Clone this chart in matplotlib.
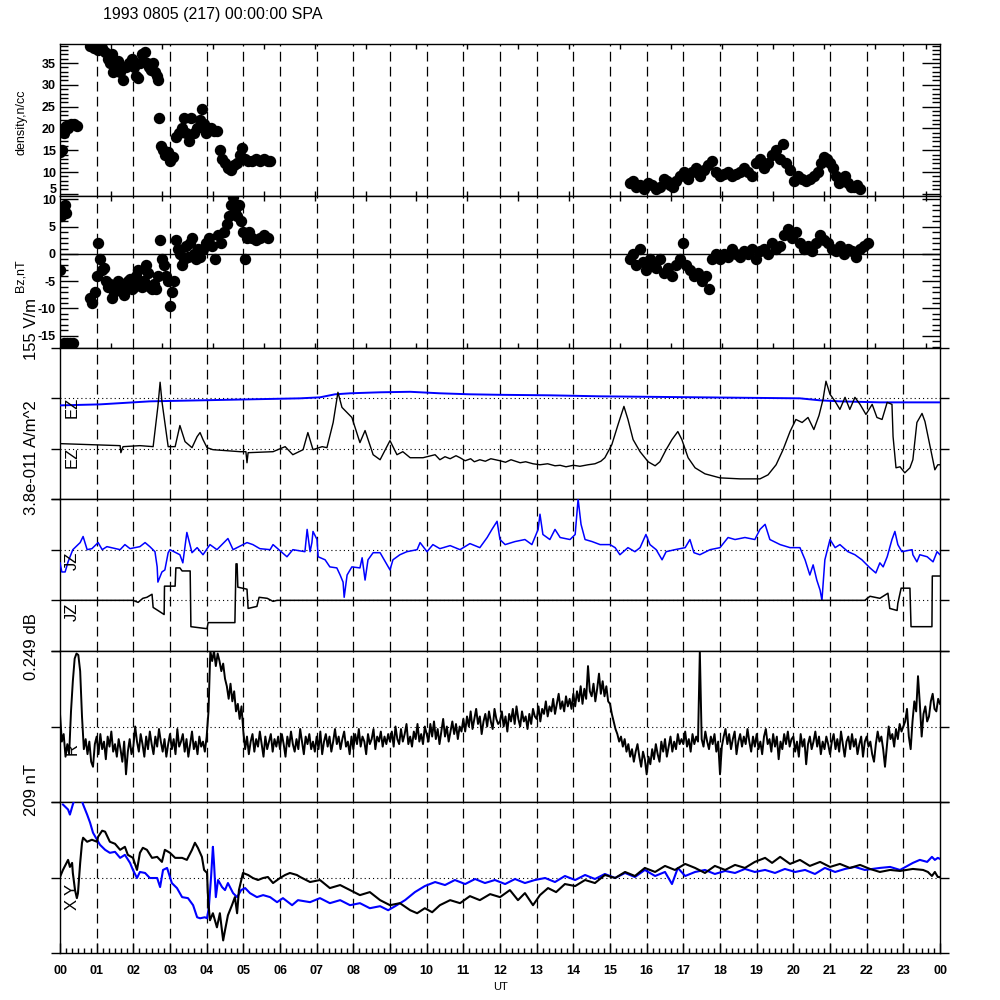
import matplotlib
matplotlib.use('Agg')
import matplotlib.pyplot as plt
import numpy as np

plt.rcParams['font.family'] = 'Liberation Sans'
plt.rcParams['axes.unicode_minus'] = False
plt.rcParams['lines.scale_dashes'] = False

# ---------------- data (time in hours UT) ----------------
# density, n/cc
dens_t = [0.00, 0.05, 0.10, 0.15, 0.22, 0.30, 0.38, 0.45,
          0.82, 0.93, 1.04, 1.15, 1.23, 1.31, 1.36, 1.42, 1.45, 1.53, 1.58, 1.64, 1.72, 1.80,
          1.88, 1.96, 2.02, 2.07, 2.13, 2.18, 2.24, 2.32, 2.37, 2.43, 2.48, 2.54, 2.59, 2.65,
          2.67, 2.70, 2.75, 2.81, 2.86, 2.95, 3.00, 3.08,
          3.16, 3.25, 3.33, 3.38, 3.44, 3.52, 3.57, 3.65, 3.74, 3.82, 3.87, 3.93, 3.98, 4.04,
          4.12, 4.20, 4.28, 4.36, 4.42, 4.50, 4.58, 4.66, 4.75, 4.83, 4.91, 4.96, 5.05, 5.13,
          5.24, 5.35, 5.45, 5.56, 5.67, 5.73,
          15.55, 15.63, 15.71, 15.82, 15.93, 16.04, 16.15, 16.26, 16.36, 16.47, 16.55, 16.64,
          16.72, 16.80, 16.91, 17.02, 17.13, 17.24, 17.35, 17.45, 17.56, 17.67, 17.78, 17.89,
          18.00, 18.11, 18.22, 18.33, 18.44, 18.55, 18.65, 18.76, 18.87, 18.98, 19.09, 19.20,
          19.31, 19.42, 19.53, 19.64, 19.72, 19.80, 19.91, 20.02, 20.13, 20.24, 20.35, 20.45,
          20.56, 20.67, 20.75, 20.84, 20.92, 21.00, 21.08, 21.16, 21.24, 21.33, 21.41, 21.49,
          21.57, 21.65, 21.74, 21.82]
dens_v = [14.5, 15, 19, 20.5, 20, 21, 21, 20.5,
          39, 38.5, 38, 38.5, 37.5, 36, 35, 37, 33, 34, 35.5, 33, 31, 34,
          35, 36, 34, 32, 31.5, 35, 37, 37.5, 35, 34, 33.5, 35, 33, 32,
          31, 22.5, 16, 15, 14, 14.5, 12.5, 13.5,
          18, 19, 20, 22.5, 19, 17, 22.5, 19, 20, 22, 24.5, 21, 19, 20,
          20, 19.5, 19.5, 15, 13, 12, 11, 10.5, 11.5, 12, 14, 15.5, 13, 12.5,
          12.5, 13, 12.5, 13, 12.5, 12.5,
          7.5, 8, 6.5, 7, 6, 7.5, 7, 6, 6.5, 8.5, 8, 7,
          6.5, 8, 9, 10, 8.5, 10, 11, 9, 10.5, 11.5, 12.5, 10,
          9, 9.5, 10, 9, 9.5, 10, 11, 10, 9, 12, 13, 11,
          12, 14, 15, 13, 16.5, 12, 10.5, 8, 9, 8.5, 8, 8.5,
          9, 10, 12, 13.5, 13, 12, 11, 9, 7.5, 8, 9, 7.5,
          6.5, 6.5, 7, 6]

# Bz, nT
bz_t = [0.00, 0.03, 0.08, 0.14, 0.16, 0.11, 0.19, 0.27, 0.35,
        0.82, 0.87, 0.95, 1.01, 1.04, 1.09, 1.15, 1.20, 1.25, 1.31, 1.36, 1.42, 1.47, 1.53,
        1.58, 1.64, 1.69, 1.75, 1.80, 1.85, 1.91, 1.96, 2.02, 2.07, 2.13, 2.18, 2.24, 2.29,
        2.35, 2.40, 2.45, 2.51, 2.56, 2.62, 2.67, 2.73, 2.78, 2.84, 2.89, 2.95, 3.00, 3.05,
        3.11, 3.16, 3.22, 3.27, 3.33, 3.38, 3.44, 3.49, 3.55, 3.60, 3.65, 3.71, 3.76, 3.82,
        3.90, 3.98, 4.06, 4.15, 4.23, 4.31, 4.39, 4.47, 4.55, 4.61, 4.66, 4.72, 4.77, 4.83,
        4.88, 4.94, 4.99, 5.05, 5.10, 5.15, 5.24, 5.35, 5.45, 5.56, 5.67,
        15.55, 15.63, 15.71, 15.82, 15.90, 15.98, 16.09, 16.17, 16.26, 16.36, 16.47, 16.58,
        16.69, 16.80, 16.91, 16.99, 17.07, 17.18, 17.29, 17.40, 17.51, 17.62, 17.70, 17.78,
        17.89, 18.00, 18.11, 18.22, 18.33, 18.44, 18.55, 18.65, 18.76, 18.87, 18.98, 19.09,
        19.20, 19.31, 19.42, 19.53, 19.64, 19.75, 19.86, 19.96, 20.07, 20.18, 20.29, 20.40,
        20.51, 20.62, 20.73, 20.84, 20.95, 21.05, 21.16, 21.27, 21.38, 21.49, 21.60, 21.71,
        21.82, 21.93, 22.04]
bz_v = [-3, 7, 8.5, 9, 7.5, -16.3, -16.3, -16.3, -16.3,
        -8, -9, -7, -4, 2, -1, -3, -2.5, -5, -6, -5.5, -8, -7, -6.5,
        -5, -6, -5.5, -7.5, -6, -5, -4.5, -6.5, -6, -4, -3, -5, -6, -5,
        -2, -3.5, -6, -6.5, -5.5, -6.5, -4, 2.5, -1, -2, -4, -5, -9.5, -7,
        -5, 2.5, 1, 0, -2, -1, 1.5, -0.5, 2, 3, 0, -1, 1, -0.5,
        1, 2, 3, 1.5, -1, 3.5, 2, 4, 5.5, 7, 9, 10.5, 8, 7,
        9, 6, 4, -1, 3, 4, 3, 2.5, 3, 3.5, 3,
        -1, 0, -2, 1, -1.5, -3, -1, -2, -2.5, -1, -3.5, -2.5,
        -4, -2, -1, 2, -2, -3, -4, -3.5, -5, -4, -6.5, -1,
        0, -1, 0, -0.5, 1, 0, -0.5, 0.5, 0, 1, -1, 0.5,
        1, 0, 2, 1, 1.5, 3.5, 4.5, 3, 4, 2, 1, 1.5,
        0.5, 2, 3.5, 2.5, 2, 1, 0.5, 1.5, 0, 1, 0.5, -0.5,
        1, 1.5, 2]

# EZ (offsets from trace baseline, in units of one tick step = 155 V/m)
ez_blue_t = [0.00, 1.09, 2.45, 3.82, 5.18, 6.55, 7.09, 7.50, 7.91, 8.73, 9.55, 10.36,
             11.18, 12.00, 13.36, 14.73, 16.09, 17.45, 18.82, 20.18, 20.73, 21.27, 22.36, 24.00]
ez_blue_v = [-0.14, -0.12, -0.06, -0.04, -0.02, 0.00, 0.02, 0.08, 0.10, 0.12, 0.13, 0.10,
             0.08, 0.07, 0.06, 0.04, 0.03, 0.02, 0.01, 0.00, -0.04, -0.06, -0.08, -0.08]
ez_black_t = [0.00, 1.64, 1.66, 1.72, 2.18, 2.54, 2.67, 2.73, 2.78, 2.95, 3.14, 3.27, 3.41,
              3.60, 3.74, 3.82, 3.90, 4.01, 4.17, 4.91, 5.07, 5.10, 5.13, 5.81, 6.14, 6.35,
              6.63, 6.76, 6.90, 7.15, 7.28, 7.45, 7.58, 7.69, 7.96, 8.18, 8.32, 8.54, 8.73,
              9.00, 9.19, 9.35, 9.55, 9.90, 10.23,
              10.36, 10.50, 10.64, 10.80, 10.91, 11.05, 11.20, 11.30, 11.45, 11.60, 11.75,
              12.00, 12.15, 12.30, 12.55, 12.70, 12.90, 13.09, 13.30, 13.50, 13.64, 13.80,
              14.00, 14.18, 14.40, 14.59, 14.75, 14.86,
              15.05, 15.22, 15.38, 15.49, 15.63, 15.82, 16.04,
              16.23, 16.36, 16.53, 16.69, 16.85, 16.96, 17.13, 17.32, 17.59, 18.00, 18.55,
              19.09, 19.31, 19.53, 19.72, 19.91, 20.07, 20.24, 20.40, 20.56, 20.70, 20.81,
              20.89, 21.00, 21.14, 21.27, 21.41, 21.54, 21.68, 21.82, 21.98, 22.15, 22.28,
              22.42, 22.56, 22.69, 22.72, 22.80, 22.91, 23.04, 23.18, 23.26, 23.37, 23.51,
              23.59, 23.73, 23.86, 23.94, 24.00]
ez_black_v = [0.10, 0.06, -0.08, 0.04, 0.06, 0.04, 0.84, 1.32, 0.94, 0.04, 0.04, 0.46, 0.14,
              0.02, 0.24, 0.32, 0.18, 0.02, -0.02, -0.06, -0.06, -0.28, -0.08, -0.06, 0.04, -0.12,
              -0.02, 0.32, -0.02, 0.04, 0.02, 0.52, 1.12, 0.82, 0.62, 0.12, 0.36, -0.12, -0.22,
              0.16, -0.12, -0.06, -0.18, -0.18, -0.12,
              -0.22, -0.16, -0.20, -0.14, -0.18, -0.24, -0.20, -0.26, -0.22, -0.25, -0.20,
              -0.24, -0.27, -0.22, -0.28, -0.26, -0.30, -0.32, -0.30, -0.34, -0.33, -0.36,
              -0.33, -0.35, -0.32, -0.30, -0.25, -0.18,
              0.08, 0.48, 0.84, 0.58, 0.18, -0.06, -0.26,
              -0.34, -0.26, -0.02, 0.18, 0.34, 0.18, -0.18, -0.38, -0.50, -0.58, -0.60,
              -0.60, -0.52, -0.32, -0.02, 0.34, 0.58, 0.52, 0.62, 0.38, 0.66, 0.98,
              1.34, 1.08, 0.94, 0.78, 1.02, 0.78, 1.02, 0.88, 0.68, 0.88, 0.62,
              0.58, 0.92, 0.88, 0.24, -0.38, -0.36, -0.48, -0.38, -0.22, 0.52, 0.70,
              0.54, 0.04, -0.42, -0.32, -0.32]

# JZ (offsets from trace baseline, in units of 3.8e-011 A/m^2)
jz_blue_t = [0.00, 0.05, 0.14, 0.22, 0.35, 0.55, 0.63, 0.74, 0.87, 1.04, 1.15, 1.28, 1.64,
             1.77, 1.91, 2.18, 2.32, 2.45, 2.59, 2.65, 2.67, 2.78, 2.86, 2.95, 3.00, 3.27,
             3.35, 3.46, 3.60, 3.74, 3.90, 4.09, 4.28, 4.58, 4.72, 5.10, 5.26, 5.45, 5.73,
             5.81, 6.19, 6.35, 6.68, 6.74, 6.82, 6.87, 6.90, 7.01, 7.04, 7.23, 7.36, 7.55,
             7.64, 7.72, 7.75, 7.83, 7.96, 8.18, 8.24, 8.32, 8.40, 8.54, 8.73, 9.00, 9.08,
             9.27, 9.46, 9.74, 9.82, 10.01, 10.17, 10.36, 10.64, 10.91, 11.18, 11.45, 11.65,
             11.78, 11.92, 12.00, 12.14, 12.41, 12.68, 12.87, 13.04, 13.09, 13.17, 13.36,
             13.50, 13.64, 13.91, 14.05, 14.13, 14.21, 14.32, 14.51, 14.73, 15.00, 15.14,
             15.27, 15.49, 15.68, 15.82, 15.98, 16.09, 16.26, 16.42, 16.53, 16.77, 17.05,
             17.18, 17.29, 17.45, 17.73, 18.00, 18.22, 18.41, 18.68, 18.95, 19.09, 19.23,
             19.36, 19.64, 19.91, 20.18, 20.32, 20.45, 20.54, 20.64, 20.73, 20.78, 20.86,
             21.00, 21.14, 21.27, 21.49, 21.68, 21.87, 22.09, 22.25, 22.36, 22.45, 22.56,
             22.69, 22.77, 22.85, 22.96, 23.24, 23.26, 23.37, 23.45, 23.65, 23.81, 23.92, 24.00]
jz_blue_v = [-0.26, -0.44, -0.44, -0.24, 0.00, 0.14, 0.26, 0.00, 0.02, 0.14, 0.00, 0.06, 0.00,
             0.10, 0.02, 0.06, 0.14, 0.06, -0.04, -0.34, -0.64, -0.44, -0.40, -0.06, 0.00, -0.10,
             -0.26, 0.34, -0.06, 0.04, -0.10, 0.10, 0.00, 0.22, 0.00, 0.14, 0.10, 0.02, 0.00,
             0.10, -0.14, 0.00, -0.04, 0.40, -0.04, 0.14, 0.36, 0.20, -0.14, -0.20, -0.34, -0.36,
             -0.50, -0.64, -0.94, -0.50, -0.34, -0.36, -0.16, -0.60, -0.20, -0.06, -0.06, -0.40, -0.20,
             -0.10, -0.04, 0.00, 0.14, -0.04, 0.10, 0.02, 0.08, 0.00, 0.12, 0.04, 0.24,
             0.40, 0.56, 0.20, 0.10, 0.16, 0.20, 0.10, 0.40, 0.70, 0.30, 0.20,
             0.40, 0.24, 0.20, 0.30, 1.00, 0.50, 0.20, 0.16, 0.10, 0.10, 0.04,
             -0.10, 0.04, -0.04, 0.04, 0.30, 0.10, 0.00, -0.20, -0.04, 0.00, 0.04,
             0.20, -0.06, -0.10, 0.00, 0.04, 0.24, 0.20, 0.24, 0.20, 0.40, 0.50,
             0.20, 0.10, 0.04, 0.04, -0.20, -0.50, -0.30, -0.60, -0.80, -1.00, -0.20,
             0.20, 0.04, 0.10, -0.04, -0.10, -0.20, -0.36, -0.46, -0.26, -0.34, -0.14,
             0.20, 0.36, 0.10, -0.04, 0.00, -0.10, -0.24, -0.10, -0.14, -0.24, -0.04, -0.10]
jz_black_t = [0.00, 1.99, 2.13, 2.26, 2.37, 2.51, 2.54, 2.67, 2.84, 2.85, 3.14, 3.16, 3.27,
              3.33, 3.55, 3.57, 4.01, 4.04, 4.77, 4.80, 4.83, 4.85, 5.10, 5.13, 5.37, 5.43,
              5.65, 5.81, 5.92, 21.95, 22.09, 22.36, 22.58, 22.63, 22.83, 22.85, 22.94, 23.18,
              23.21, 23.78, 23.79, 24.00]
jz_black_v = [0.00, 0.00, -0.04, 0.04, 0.06, 0.12, -0.14, -0.20, -0.28, 0.28, 0.28, 0.64, 0.64,
              0.58, 0.58, -0.52, -0.56, -0.44, -0.44, 0.72, 0.72, 0.26, 0.22, -0.16, -0.12, 0.06,
              0.04, -0.02, 0.00, 0.00, 0.08, 0.04, 0.14, -0.16, -0.20, -0.06, 0.24, 0.24,
              -0.52, -0.52, 0.48, 0.48]

# R (offsets from baseline, 3-minute samples, units of 0.249 dB / 1.5)
r_vals = [0.25, -0.3, -0.15, -0.6, -0.35, -0.55, 0.3, 0.9, 1.35, 1.45, 1.42, 1.1, 0.2, -0.45, -0.25, -0.55, -0.3, -0.7, -0.8, -0.35,
          -0.2, -0.55, -0.15, -0.45, -0.3, -0.65, -0.2, -0.4, -0.1, -0.5, -0.35, -0.6, -0.25, -0.45, -0.7, -0.3, -0.95, -0.5, -0.25, -0.55,
          -0.4, 0.0, -0.3, -0.5, -0.15, -0.35, -0.6, -0.2, -0.45, -0.1, -0.35, -0.55, -0.2, -0.4, -0.05, -0.3, -0.5, -0.25, -0.6, -0.35,
          -0.15, -0.45, -0.25, -0.55, -0.05, -0.4, -0.3, -0.15, -0.5, -0.25, -0.6, -0.35, -0.1, -0.45, -0.3, -0.55, -0.2, -0.4, -0.3, -0.5,
          -0.2, 0.3, 1.5, 1.3, 1.5, 1.2, 1.45, 1.3, 1.1, 1.25, 0.95, 0.8, 0.55, 0.85, 0.5, 0.7, 0.3, 0.45, 0.15, 0.4,
          -0.1, -0.45, -0.2, -0.55, -0.3, -0.15, -0.5, -0.25, -0.4, -0.1, -0.35, -0.6, -0.2, -0.45, -0.3, -0.15, -0.5, -0.25, -0.4, -0.2,
          -0.45, -0.15, -0.35, -0.6, -0.2, -0.4, -0.1, -0.35, -0.5, -0.25, -0.45, -0.05, -0.3, -0.55, -0.2, -0.35, -0.15, -0.45, -0.3, -0.5,
          -0.2, -0.45, -0.1, -0.55, -0.3, -0.15, -0.4, -0.2, -0.5, -0.3, -0.05, -0.35, -0.2, -0.45, -0.25, -0.1, -0.4, -0.3, -0.55, -0.2,
          -0.45, -0.15, -0.35, -0.05, -0.4, -0.2, -0.3, -0.55, -0.15, -0.35, -0.25, -0.05, -0.45, -0.2, -0.3, -0.1, -0.4, -0.2, -0.35, -0.15,
          -0.3, -0.1, -0.4, 0.0, -0.25, -0.35, -0.05, -0.3, -0.15, 0.05, -0.35, -0.2, -0.4, -0.1, -0.25, 0.05, -0.3, -0.15, -0.35, 0.0,
          -0.15, -0.3, 0.05, -0.2, 0.1, -0.25, -0.05, -0.35, -0.1, 0.15, -0.2, 0.0, -0.3, -0.1, 0.1, -0.15, 0.05, -0.25, 0.0, -0.1,
          0.15, -0.1, 0.2, 0.0, 0.3, -0.05, 0.15, 0.35, 0.05, 0.2, -0.15, 0.1, 0.25, 0.0, 0.3, 0.1, -0.05, 0.35, 0.15, 0.05,
          0.1, 0.3, 0.0, 0.2, -0.1, 0.25, 0.1, 0.35, 0.05, 0.4, 0.15, 0.0, 0.3, 0.1, 0.2, -0.05, 0.25, 0.05, 0.35, 0.2,
          0.15, 0.4, 0.1, 0.35, 0.25, 0.5, 0.2, 0.4, 0.3, 0.55, 0.25, 0.45, 0.65, 0.35, 0.5, 0.3, 0.6, 0.4, 0.55, 0.35,
          0.65, 0.4, 0.7, 0.5, 0.8, 0.45, 0.75, 0.55, 1.2, 0.7, 0.6, 0.85, 0.5, 0.75, 1.05, 0.65, 0.9, 0.6, 0.8, 0.5,
          0.45, 0.25, 0.1, -0.05, -0.15, -0.3, -0.2, -0.4, -0.25, -0.5, -0.35, -0.6, -0.45, -0.7, -0.5, -0.35, -0.6, -0.8, -0.5, -0.65,
          -0.95, -0.6, -0.75, -0.45, -0.65, -0.35, -0.55, -0.7, -0.3, -0.5, -0.25, -0.6, -0.4, -0.2, -0.5, -0.3, -0.45, -0.15, -0.35, -0.25,
          -0.35, -0.1, -0.4, -0.25, -0.5, -0.15, -0.35, -0.2, -0.3, 1.5, -0.25, -0.4, -0.1, -0.3, -0.45, -0.2, -0.35, -0.15, -0.5, -0.3,
          -0.95, -0.4, -0.2, -0.05, -0.35, -0.15, -0.45, -0.25, -0.1, -0.55, -0.3, -0.15, -0.4, -0.2, -0.35, -0.05, -0.3, -0.5, -0.2, -0.4,
          -0.15, -0.45, -0.3, -0.55, -0.2, -0.05, -0.35, -0.25, -0.5, -0.15, -0.4, -0.2, -0.65, -0.3, -0.45, -0.15, -0.35, -0.1, -0.4, -0.25,
          -0.2, -0.5, -0.3, -0.6, -0.15, -0.4, -0.25, -0.75, -0.35, -0.2, -0.45, -0.3, -0.1, -0.4, -0.2, -0.55, -0.3, -0.45, -0.2, -0.35,
          -0.55, -0.3, -0.15, -0.45, -0.25, -0.5, -0.1, -0.35, -0.6, -0.3, -0.2, -0.45, -0.15, -0.4, -0.25, -0.55, -0.35, -0.2, -0.6, -0.3,
          -0.2, -0.4, -0.3, -0.55, -0.7, -0.35, -0.1, -0.3, -0.2, -0.45, -0.8, -0.4, 0.0, -0.25, -0.15, -0.4, -0.05, -0.25, 0.05, -0.1,
          0.0, 0.1, 0.35, -0.2, -0.45, 0.1, 0.5, 0.3, 1.0, 0.45, -0.2, 0.25, 0.4, 0.1, 0.2, 0.5, 0.65, 0.35, 0.3, 0.55,
          0.45]
r_t = np.linspace(0, 24, len(r_vals))

# X and Y (offsets from baseline, units of 209 nT / 1.5)
x_t = [0.00, 0.08, 0.19, 0.22, 0.27, 0.33, 0.35, 0.41, 0.46, 0.49, 0.55, 0.60, 0.63, 0.74, 0.87,
       1.01, 1.04, 1.15, 1.23, 1.36, 1.50, 1.64, 1.77, 1.85, 1.99, 2.10, 2.18, 2.26, 2.37, 2.51,
       2.65, 2.78, 2.86, 3.00, 3.14, 3.33, 3.46, 3.60, 3.68, 3.76, 3.87, 3.93, 4.01, 4.04, 4.09,
       4.17, 4.28, 4.36, 4.45, 4.50, 4.58, 4.69, 4.77, 4.83, 4.88, 4.99, 5.13, 5.26, 5.40, 5.54,
       5.67, 5.81, 6.00, 6.14, 6.27, 6.46, 6.55, 6.82, 7.09, 7.36, 7.64, 7.91, 8.18, 8.45, 8.73,
       9.00, 9.27, 9.55, 9.74, 9.95, 10.15, 10.36, 10.64, 10.91, 11.18, 11.45, 11.73, 12.00,
       12.27, 12.49, 12.68, 12.90, 13.09, 13.31, 13.53, 13.77, 14.05, 14.32, 14.59, 14.86,
       15.14, 15.41, 15.68, 15.95, 16.23, 16.50, 16.77, 17.05, 17.32, 17.59, 17.86, 18.14,
       18.41, 18.68, 18.95, 19.23, 19.42, 19.64, 19.91, 20.18, 20.45, 20.73, 21.00, 21.27,
       21.54, 21.82, 22.09, 22.36, 22.64, 22.91, 23.26, 23.54, 23.67, 23.78, 23.86, 23.94, 24.00]
x_v = [0.01, 0.15, 0.31, 0.35, 0.21, 0.29, 0.09, -0.25, -0.41, -0.31, 0.29, 0.69, 0.79, 0.71, 0.75,
       0.71, 0.81, 0.93, 0.91, 0.71, 0.67, 0.55, 0.61, 0.45, 0.39, 0.15, 0.49, 0.59, 0.55, 0.39,
       0.41, 0.31, 0.55, 0.49, 0.39, 0.39, 0.35, 0.55, 0.69, 0.59, 0.41, 0.15, 0.09, -0.45, -0.85,
       -0.71, -0.99, -0.71, -1.25, -1.05, -0.75, -0.55, -0.39, -0.71, -0.25, 0.09, 0.05, -0.01, -0.05, -0.01,
       0.01, -0.11, -0.01, 0.05, 0.09, 0.05, 0.01, -0.09, -0.05, -0.21, -0.15, -0.25, -0.35, -0.29, -0.45,
       -0.55, -0.51, -0.65, -0.71, -0.61, -0.69, -0.55, -0.45, -0.51, -0.37, -0.45, -0.33, -0.39,
       -0.25, -0.45, -0.31, -0.55, -0.35, -0.21, -0.29, -0.13, -0.17, -0.05, -0.11, 0.05,
       -0.01, 0.11, 0.03, 0.19, 0.11, 0.23, 0.15, 0.27, 0.19, 0.09, 0.23, 0.15,
       0.25, 0.19, 0.31, 0.39, 0.29, 0.41, 0.27, 0.35, 0.23, 0.31, 0.21, 0.27,
       0.19, 0.25, 0.17, 0.11, 0.15, 0.13, 0.17, 0.15, 0.11, 0.03, 0.11, 0.01, 0.01]
y_t = [0.08, 0.22, 0.27, 0.35, 0.44, 0.55, 0.63, 0.74, 0.82, 0.90, 1.01, 1.09, 1.23, 1.36, 1.50,
       1.64, 1.77, 1.91, 1.99, 2.10, 2.18, 2.32, 2.45, 2.65, 2.73, 2.81, 2.92, 3.05, 3.19, 3.33,
       3.49, 3.63, 3.74, 3.82, 3.95, 4.01, 4.06, 4.12, 4.17, 4.20, 4.25, 4.31, 4.42, 4.50, 4.58,
       4.72, 4.83, 4.94, 5.05, 5.18, 5.37, 5.54, 5.73, 5.92, 6.08, 6.33, 6.49, 6.82, 7.09, 7.36,
       7.64, 7.91, 8.18, 8.45, 8.73, 8.95, 9.14, 9.41, 9.68, 9.95, 10.23, 10.50, 10.77, 11.05,
       11.32, 11.59, 11.86, 12.14, 12.41, 12.68, 12.95, 13.23, 13.50, 13.77, 14.05, 14.32,
       14.59, 14.86, 15.14, 15.41, 15.68, 15.95, 16.23, 16.50, 16.69, 16.85, 17.05, 17.32,
       17.59, 17.86, 18.14, 18.41, 18.68, 18.95, 19.23, 19.50, 19.77, 20.05, 20.32, 20.59,
       20.86, 21.14, 21.41, 21.68, 21.95, 22.36, 22.64, 22.91, 23.26, 23.45, 23.65, 23.78,
       23.86, 23.94, 24.00]
y_v = [1.45, 1.35, 1.25, 1.45, 1.65, 1.65, 1.45, 1.25, 1.09, 0.89, 0.75, 0.65, 0.55, 0.49, 0.51,
       0.39, 0.45, 0.29, 0.15, -0.01, 0.11, 0.09, -0.01, -0.01, -0.19, 0.15, 0.19, -0.11, -0.21, -0.39,
       -0.41, -0.55, -0.79, -0.81, -0.79, -0.81, -0.59, 0.01, 0.61, 0.29, -0.39, -0.05, -0.19, -0.25, -0.11,
       -0.31, -0.39, -0.25, -0.21, -0.31, -0.39, -0.35, -0.39, -0.49, -0.41, -0.55, -0.45, -0.49, -0.41, -0.51,
       -0.45, -0.55, -0.51, -0.61, -0.57, -0.65, -0.57, -0.45, -0.29, -0.17, -0.09, -0.15, -0.05, -0.13,
       -0.03, -0.11, -0.05, -0.13, -0.03, -0.11, -0.05, -0.01, -0.09, 0.03, -0.05, 0.05,
       -0.03, 0.07, -0.01, 0.09, 0.01, 0.15, 0.03, 0.11, -0.13, 0.19, 0.03, 0.11,
       0.15, 0.07, 0.13, 0.09, 0.17, 0.11, 0.15, 0.09, 0.17, 0.11, 0.15, 0.07,
       0.19, 0.11, 0.17, 0.21, 0.15, 0.19, 0.21, 0.15, 0.29, 0.35, 0.31, 0.41,
       0.35, 0.39, 0.37]

hour_labels = ['%02d' % (h % 24) for h in range(25)]

# ---------------- layout ----------------
fig = plt.figure(figsize=(10, 10), dpi=100)
edges = [44, 196, 348, 499, 651, 802, 953]


def add_panel(i):
    top, bot = edges[i], edges[i + 1]
    ax = fig.add_axes([0.06, 1 - bot / 1000, 0.88, (bot - top) / 1000])
    ax.set_xlim(0, 24)
    for s in ax.spines.values():
        s.set_linewidth(1.0)
    for h in range(1, 24):
        ax.axvline(h, color='k', lw=0.9, dashes=(7, 3.8), zorder=1)
    return ax


def scatter_axis_style(ax):
    ax.tick_params(axis='y', which='major', direction='in', length=13, width=1,
                   left=True, right=True, labelsize=9, pad=3)
    ax.tick_params(axis='y', which='minor', direction='in', length=6, width=1,
                   left=True, right=True)
    ax.set_xticks(np.arange(1, 18) * 5000 / 3600)
    ax.tick_params(axis='x', which='both', direction='in', length=3.6, width=1,
                   top=True, bottom=True, labelbottom=False)
    for lab in ax.get_yticklabels():
        lab.set_fontweight('bold')


def line_axis_style(ax, ticks):
    ax.set_ylim(-1.5, 1.5)
    ax.set_yticks(ticks)
    ax.tick_params(axis='y', direction='out', length=6.5, width=1,
                   left=True, right=True, labelleft=False)
    ax.set_xticks([])


# panel 1: density
ax1 = add_panel(0)
ax1.plot(dens_t, dens_v, 'o', color='k', ms=7.2, mec='k', zorder=3)
ax1.set_ylim(4.5, 39.36)
ax1.set_yticks([5, 10, 15, 20, 25, 30, 35], ['', '10', '15', '20', '25', '30', '35'])
ax1.set_yticks(np.arange(5, 40), minor=True)
scatter_axis_style(ax1)
# lowest label sits on the panel edge, as in the original
ax1.annotate('5', xy=(0, 4.5), xycoords=('axes fraction', 'data'), xytext=(-2.5, 0.3),
             textcoords='offset points', ha='right', va='bottom', fontsize=9,
             fontweight='bold')

# panel 2: Bz
ax2 = add_panel(1)
ax2.axhline(0, color='k', lw=1.0, zorder=2)
ax2.plot(bz_t, bz_v, 'o', color='k', ms=7.2, mec='k', zorder=3)
ax2.set_ylim(-17.25, 10.64)
ax2.set_yticks([-15, -10, -5, 0, 5, 10])
ax2.set_yticks(np.arange(-17, 11), minor=True)
scatter_axis_style(ax2)

dots = (0.8, 2.2)

# panel 3: EZ
ax3 = add_panel(2)
line_axis_style(ax3, [-1.5, -0.5, 0.5, 1.5])
ax3.axhline(0.5, color='k', lw=0.8, dashes=dots, zorder=1)
ax3.axhline(-0.5, color='k', lw=0.8, dashes=dots, zorder=1)
ax3.plot(ez_blue_t, np.array(ez_blue_v) + 0.5, color='blue', lw=1.4, zorder=3)
ax3.plot(ez_black_t, np.array(ez_black_v) - 0.5, color='k', lw=1.0, zorder=3)

# panel 4: JZ
ax4 = add_panel(3)
line_axis_style(ax4, [-1.5, -0.5, 0.5, 1.5])
ax4.axhline(0.5, color='k', lw=0.8, dashes=dots, zorder=1)
ax4.axhline(-0.5, color='k', lw=0.8, dashes=dots, zorder=1)
ax4.plot(jz_blue_t, np.array(jz_blue_v) + 0.5, color='blue', lw=1.1, zorder=3)
ax4.plot(jz_black_t, np.array(jz_black_v) - 0.5, color='k', lw=1.1, zorder=3)

# panel 5: R
ax5 = add_panel(4)
line_axis_style(ax5, [-1.5, 0, 1.5])
ax5.axhline(0, color='k', lw=0.8, dashes=dots, zorder=1)
ax5.plot(r_t, r_vals, color='k', lw=1.4, zorder=3)

# panel 6: X, Y
ax6 = add_panel(5)
line_axis_style(ax6, [-1.5, 0, 1.5])
ax6.axhline(0, color='k', lw=0.8, dashes=dots, zorder=1)
ax6.plot(y_t, y_v, color='blue', lw=1.5, zorder=3)
ax6.plot(x_t, x_v, color='k', lw=1.5, zorder=4)
ax6.set_xticks(range(25))
ax6.set_xticklabels(hour_labels, fontsize=9, fontweight='bold')
ax6.set_xticks(np.arange(0, 24.01, 1 / 6), minor=True)
ax6.tick_params(axis='x', which='major', direction='in', length=7, width=1, pad=9)
ax6.tick_params(axis='x', which='minor', direction='in', length=3.6, width=1)


# ---------------- text ----------------
def ftext(x, y, s, **kw):
    fig.text(x / 1000, 1 - y / 1000, s, **kw)


ftext(103, 15, '1993 0805 (217) 00:00:00 SPA', fontsize=11.5, ha='left', va='center')
ftext(500, 987, 'UT', fontsize=8, ha='center', va='center')
ftext(22, 122, 'density,n/cc', fontsize=9, rotation=90, ha='center', va='center')
ftext(21, 276, 'Bz,nT', fontsize=9, rotation=90, ha='center', va='center')
ftext(31, 329, '155 V/m', fontsize=12, rotation=90, ha='center', va='center')
ftext(32, 458, '3.8e-011 A/m^2', fontsize=12, rotation=90, ha='center', va='center')
ftext(32, 647, '0.249 dB', fontsize=12, rotation=90, ha='center', va='center')
ftext(32, 790, '209 nT', fontsize=12, rotation=90, ha='center', va='center')
ftext(72, 407, 'EZ', fontsize=12, rotation=90, ha='center', va='center')
ftext(72, 457, 'EZ', fontsize=12, rotation=90, ha='center', va='center')
ftext(72, 561, 'JZ', fontsize=12, rotation=90, ha='center', va='center')
ftext(72, 612, 'JZ', fontsize=12, rotation=90, ha='center', va='center')
ftext(72, 749, 'R', fontsize=12, rotation=90, ha='center', va='center')
ftext(72, 889, 'Y', fontsize=12, rotation=90, ha='center', va='center')
ftext(72, 904, 'X', fontsize=12, rotation=90, ha='center', va='center')

fig.savefig('out.png', dpi=100, facecolor='white')
